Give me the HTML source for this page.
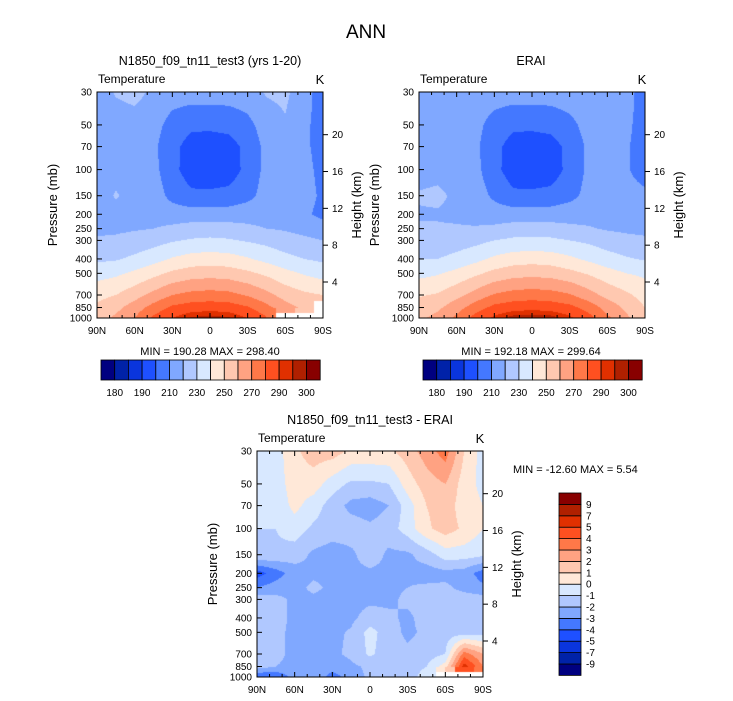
<!DOCTYPE html>
<html><head><meta charset="utf-8"><style>
body{margin:0;background:#fff;width:733px;height:701px;overflow:hidden;position:relative;font-family:"Liberation Sans",sans-serif}
canvas{position:absolute}
svg{position:absolute;left:0;top:0}
</style></head><body>
<canvas id="c1" style="left:97px;top:92px" width="226" height="226"></canvas>
<canvas id="c2" style="left:419px;top:92px" width="226" height="226"></canvas>
<canvas id="c3" style="left:257px;top:451px" width="226" height="226"></canvas>
<svg id="ov" width="733" height="701"></svg>
<script>
const lats=[90,75,60,45,30,15,0,-15,-30,-45,-60,-75,-90];
const levels=[30,50,70,100,150,200,250,300,400,500,700,850,1000];
const latTicks=["90N","60N","30N","0","30S","60S","90S"];
const heightTicks=[4,8,12,16,20];
const N=NaN;
const modelT=[
[214,221,223,218,215,215,215,215,216,221,222,214,205],
[214,215,216,214,206,202,202,203,207,215,219,212,206],
[214,215,215,212,203,196,195,196,203,213,216,212,206],
[215,216,216,213,203,195,194,195,203,213,216,213,207],
[214,221,216,215,207,202,202,203,207,214,216,214,208],
[216,216,216,216,215,215,215,215,216,216,215,212,207],
[218,218,219,220,222,224,224,224,222,220,219,217,215],
[221,222,224,226,229,231,232,231,229,227,224,222,220],
[228,229,232,236,241,244,245,244,241,237,233,230,228],
[236,238,242,247,252,255,256,255,252,248,243,239,236],
[247,250,256,263,270,273,274,273,269,263,256,252,250],
[252,257,265,274,282,285,286,285,281,273,264,258,N],
[256,262,270,282,290,296,298,296,290,281,N,N,N]];
const eraiT=[
[215,215,216,216,215,215,215,215,216,217,217,214,205],
[215,215,215,213,206,202,202,203,207,214,216,212,206],
[215,215,215,212,203,196,195,196,203,212,215,211,206],
[216,217,216,213,203,195,194,195,203,212,215,211,206],
[221,222,218,215,208,202,202,203,207,213,215,213,212],
[219,219,218,216,215,215,215,215,216,216,215,214,213],
[221,221,221,221,222,224,224,224,222,221,219,218,217],
[223,223,225,227,230,232,232,232,230,228,225,223,222],
[230,230,233,237,242,245,246,245,242,238,234,231,229],
[237,239,243,248,253,256,257,256,253,249,244,240,238],
[249,251,257,264,271,274,275,274,271,264,257,252,246],
[254,258,266,275,283,286,287,286,283,276,266,258,250],
[258,263,272,284,292,298,299,298,292,284,272,262,252]];
const diffT=[
[-0.5,-0.5,0.8,1.5,1.5,0.8,0.8,0.8,1.5,2.5,3.5,1,-0.5],
[-0.5,-0.5,0.5,0.5,-0.5,-1.2,-1.2,-1,0.5,1.5,2,0.5,-0.3],
[-0.7,-0.7,0.3,-0.5,-1.5,-2.3,-2.5,-2,-0.5,1,1.5,0.5,0],
[-1,-1,-0.5,-1.2,-1.5,-1.5,-1.8,-1.5,-0.5,0.8,1.5,0.8,0],
[-1,-1.2,-1.5,-2.2,-2.5,-2.2,-1.5,-2.2,-2.2,-1.5,-0.5,-0.5,-0.8],
[-4.5,-3.5,-2.5,-2.2,-2.2,-2.2,-2.2,-2.2,-2.2,-2.5,-2.3,-2.5,-3.5],
[-3,-2.5,-2.3,-1.8,-2.2,-2.2,-2.2,-2.2,-2,-1.8,-1.8,-2.3,-2.8],
[-1.5,-1.7,-2.2,-2.2,-2.3,-2.3,-2.2,-2.2,-1.8,-1.5,-1.5,-1.5,-1.5],
[-1.5,-1.7,-2.2,-2.3,-2.3,-2.2,-1.6,-1.8,-2.2,-1.6,-1.5,-1.5,-1.5],
[-1.5,-1.8,-2.2,-2.3,-2.2,-1.9,-0.6,-1.6,-2.2,-1.8,-1.5,-1.5,-1.5],
[-1.3,-1.8,-2.2,-2.2,-2.2,-1.8,-0.8,-1.6,-1.8,-1.5,-1,3.5,2],
[-1.5,-2,-2.2,-2.2,-2.5,-2.2,-1.8,-1.6,-1.5,-1,0.5,5.5,3],
[-4,-4,-2.5,-2.2,-3.5,-2.5,-1.8,-1.6,-1.5,-0.5,N,N,N]];
const tLevels=[180,185,190,200,210,220,230,240,250,260,270,280,290,295,300];
const tLabels=["180","190","210","230","250","270","290","300"];
const dLevels=[-9,-7,-5,-4,-3,-2,-1,0,1,2,3,4,5,7,9];
const dLabels=["-9","-7","-5","-4","-3","-2","-1","0","1","2","3","4","5","7","9"];
const colors=["#000080","#0022a8","#0a35dd","#1e50ff","#4478ff","#80a8ff","#b0c8ff","#d8e8ff","#ffe8d8","#ffc8b0","#ffa282","#ff7848","#ff5020","#e03000","#b02000","#880000"];

const W=226,H=226;
const lnTop=Math.log(30),lnBot=Math.log(1000);
function yOfP(p){return (Math.log(p)-lnTop)/(lnBot-lnTop)*H;}
function xOfLat(l){return (90-l)/180*W;}
function classify(v,lv){let k=0;while(k<lv.length&&v>=lv[k])k++;return k;}
function drawField(id,data,lv){
  const c=document.getElementById(id),ctx=c.getContext('2d');
  const img=ctx.createImageData(W,H);
  const rgb=colors.map(h=>[parseInt(h.substr(1,2),16),parseInt(h.substr(3,2),16),parseInt(h.substr(5,2),16)]);
  const lnl=levels.map(Math.log);
  for(let y=0;y<H;y++){
    const lp=lnTop+(y+0.5)/H*(lnBot-lnTop);
    let j=0;while(j<levels.length-2&&lp>lnl[j+1])j++;
    const fy=Math.min(1,Math.max(0,(lp-lnl[j])/(lnl[j+1]-lnl[j])));
    for(let x=0;x<W;x++){
      const g=(x+0.5)/W*(lats.length-1);
      const i=Math.min(lats.length-2,Math.floor(g)),fx=g-i;
      const a=data[j][i],b=data[j][i+1],cc=data[j+1][i],d=data[j+1][i+1];
      const o=(y*W+x)*4;
      let v;
      if([a,b,cc,d].some(isNaN)){
        const near=data[fy<0.5?j:j+1][fx<0.5?i:i+1];
        if(isNaN(near)){img.data[o]=img.data[o+1]=img.data[o+2]=255;img.data[o+3]=255;continue;}
        const vals=[a,b,cc,d].filter(q=>!isNaN(q));v=vals.reduce((s,q)=>s+q,0)/vals.length;
        v=(v+near)/2;
      } else v=(a*(1-fx)+b*fx)*(1-fy)+(cc*(1-fx)+d*fx)*fy;
      const col=rgb[classify(v,lv)];
      img.data[o]=col[0];img.data[o+1]=col[1];img.data[o+2]=col[2];img.data[o+3]=255;
    }
  }
  ctx.putImageData(img,0,0);
}
drawField('c1',modelT,tLevels);
drawField('c2',eraiT,tLevels);
drawField('c3',diffT,dLevels);

const svg=document.getElementById('ov');const NS='http://www.w3.org/2000/svg';
function el(tag,attrs,txt){const e=document.createElementNS(NS,tag);for(const k in attrs)e.setAttribute(k,attrs[k]);if(txt!==undefined)e.textContent=txt;svg.appendChild(e);return e;}
function text(x,y,s,size,anchor,name,rot){const e=el('text',{x:x,y:y,'font-size':size,'text-anchor':anchor||'middle',fill:'#000'},s);
  if(rot)e.setAttribute('transform','rotate(-90 '+x+' '+y+')');
  
  return e;}
function axes(ox,oy,pfx){
  const f=el('rect',{x:ox,y:oy,width:W,height:H,fill:'none',stroke:'#000','stroke-width':1});
  
  
  levels.forEach(p=>{const y=oy+yOfP(p);
    el('line',{x1:ox,x2:ox+5,y1:y,y2:y,stroke:'#000'});
    text(ox-5,y+3.5,String(p),10,'end',pfx+'-pressure-tick-label');});
  for(let l=90;l>=-90;l-=10){const x=ox+xOfLat(l),len=(l%30===0)?5:3;
    el('line',{x1:x,x2:x,y1:oy,y2:oy+len,stroke:'#000'});
    el('line',{x1:x,x2:x,y1:oy+H,y2:oy+H-len,stroke:'#000'});}
  latTicks.forEach((t,i)=>{text(ox+i*W/6,oy+H+16,t,10,'middle',pfx+'-lat-tick-label');});
  heightTicks.forEach(h=>{const p=1013*Math.exp(-h/7.0);const y=oy+yOfP(p);
    el('line',{x1:ox+W,x2:ox+W+5,y1:y,y2:y,stroke:'#000'});
    text(ox+W+9,y+3.5,String(h),10,'start',pfx+'-height-tick-label');});
  text(ox+1,oy-9,'Temperature',12,'start',pfx+'-variable-label');
  text(ox+W-3,oy-8,'K',13,'middle',pfx+'-units-label');
  text(ox-40,oy+H/2,'Pressure (mb)',13,'middle',pfx+'-y-axis-title',true);
  text(ox+W+38,oy+H/2,'Height (km)',13,'middle',pfx+'-right-axis-title',true);
}
text(366,38,'ANN',19,'middle','main-title');
text(210,65,'N1850_f09_tn11_test3 (yrs 1-20)',12.5,'middle','model-panel-title');
text(531,65,'ERAI',12.5,'middle','erai-panel-title');
text(370,424,'N1850_f09_tn11_test3 - ERAI',12.5,'middle','diff-panel-title');
axes(97,92,'model');axes(419,92,'erai');axes(257,451,'diff');
text(210,355,'MIN = 190.28  MAX = 298.40',11,'middle','model-min-max');
text(531,355,'MIN = 192.18  MAX = 299.64',11,'middle','erai-min-max');
text(513,473,'MIN = -12.60  MAX =   5.54',11,'start','diff-min-max');
function hbar(x0,name){const bw=13.7;
  colors.forEach((c,i)=>{const r=el('rect',{x:x0+i*bw,y:360,width:bw,height:20,fill:c,stroke:'#000','stroke-width':0.8});
    
    });
  tLabels.forEach((t,k)=>{text(x0+(2*k+1)*bw,396,t,10,'middle',name+'-label');});
}
hbar(101,'model-colorbar');hbar(423,'erai-colorbar');
const vb=11.4;
colors.forEach((c,i)=>{const r=el('rect',{x:559,y:493+(15-i)*vb,width:22,height:vb,fill:c,stroke:'#000','stroke-width':0.8});
  
  });
dLabels.forEach((t,k)=>{text(586,493+(15-k-1)*vb+vb+3.5,t,10,'start','diff-colorbar-label');});
</script>
</body></html>
